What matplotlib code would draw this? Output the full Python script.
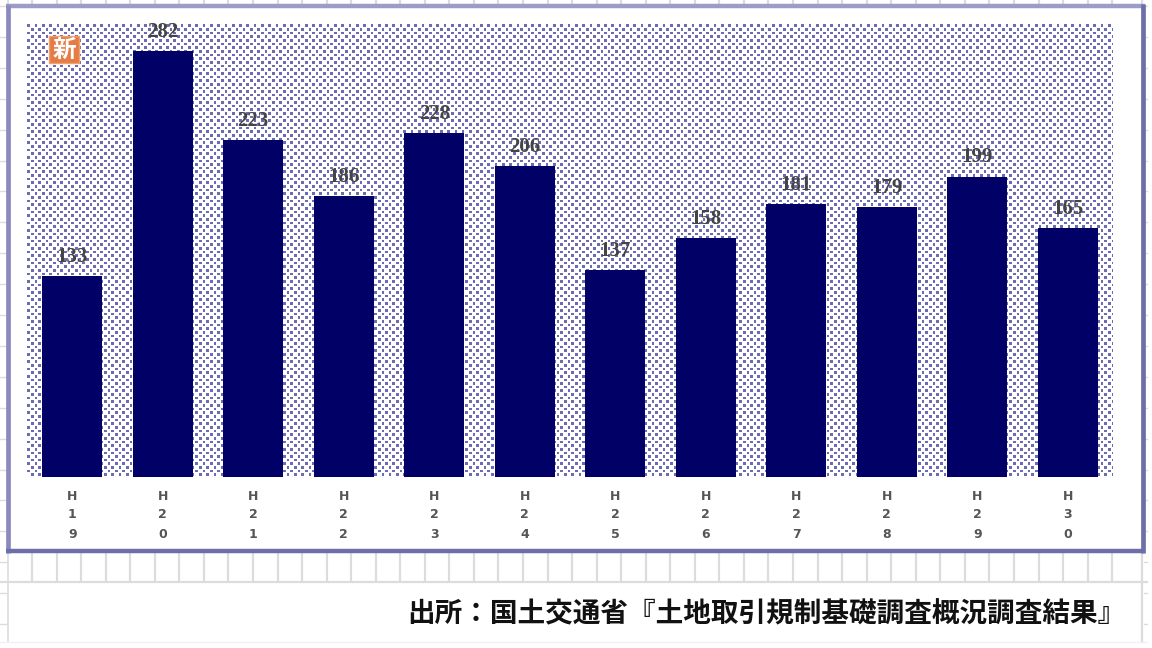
import matplotlib
matplotlib.use('Agg')
import matplotlib.pyplot as plt
import numpy as np
from matplotlib.patches import Rectangle

plt.rcParams['font.family'] = ['Noto Sans CJK JP', 'DejaVu Sans']

# data
nendo = ['H19', 'H20', 'H21', 'H22', 'H23', 'H24', 'H25', 'H26', 'H27', 'H28', 'H29', 'H30']
kensu = [133, 282, 223, 186, 228, 206, 137, 158, 181, 179, 199, 165]
shutten = '出所：国土交通省『土地取引規制基礎調査概況調査結果』'
shin = '新'

W, H = 1152, 648
fig = plt.figure(figsize=(W / 100, H / 100), dpi=100, facecolor='white')


def px_axes(x0, y0, x1, y1):
    # pixel box, measured from the top left
    return fig.add_axes([x0 / W, 1 - y1 / H, (x1 - x0) / W, (y1 - y0) / H])


# spreadsheet cells behind everything, frame on top of them
bg = fig.add_axes([0, 0, 1, 1], zorder=0)
bg.set_xlim(0, W)
bg.set_ylim(H, 0)
bg.axis('off')

gris = '#dcdcdc'
for x in np.arange(32, 1130, 24.55):
    bg.plot([x, x], [0, 582], color=gris, lw=1.6, solid_capstyle='butt')
# row lines only show in the narrow margins left and right of the frame
for y in np.arange(6, 640, 30.9):
    bg.plot([0, 7], [y, y], color=gris, lw=1.0)
    bg.plot([1144, 1147], [y, y], color=gris, lw=1.0)
bg.plot([0, 1147], [582, 582], color=gris, lw=1.6)
bg.plot([7.5, 7.5], [0, 642], color=gris, lw=1.2)
bg.plot([1142, 1142], [0, 642], color=gris, lw=1.6)
bg.plot([0, 1147], [641.5, 641.5], color='#f0f0f0', lw=1.0, zorder=4)

# frame
bg.add_patch(Rectangle((8, 6), 1134.5, 545, facecolor='white', edgecolor='none', zorder=5))
bg.plot([6, 1145], [6, 6], color='#9c9cc6', lw=3.2, zorder=6, solid_capstyle='butt')
bg.plot([8, 8], [5, 553], color='#8a8abc', lw=3.4, zorder=6, solid_capstyle='butt')
bg.plot([1143, 1143], [4, 553], color='#6e6ea8', lw=3.4, zorder=6, solid_capstyle='butt')
bg.plot([6, 1145], [551, 551], color='#6e6ea8', lw=3.2, zorder=6, solid_capstyle='butt')

# chart
ax = px_axes(27, 24, 1113, 477)
ax.set_zorder(2)

# dotted plot background
ny, nx = 453, 1086
yy, xx = np.mgrid[0:ny, 0:nx]
paso = 3.65
celda = (np.floor(xx / paso) + np.floor(yy / paso)) % 2 == 0
punto = celda & (xx / paso % 1 < 0.72) & (yy / paso % 1 < 0.72)
tex = np.ones((ny, nx, 3))
tex[punto] = matplotlib.colors.to_rgb('#6c6cb4')
ax.imshow(tex, extent=(-0.5, 11.5, 0, 300), aspect='auto', interpolation='nearest', zorder=0)

pos = np.arange(len(nendo))
barras = ax.bar(pos, kensu, width=0.665, color='#000066', zorder=2)
ax.bar_label(barras, padding=6.5, fontsize=15, color='#444444', fontweight='bold',
             family=['Liberation Serif'])

ax.set_xlim(-0.5, 11.5)
ax.set_ylim(0, 300)
ax.set_yticks([])
ax.set_xticks(pos)
ax.set_xticklabels(['\n'.join(n) for n in nendo], fontsize=9, fontweight='bold',
                   color='#555555', family=['DejaVu Sans'], linespacing=1.6)
ax.tick_params(axis='x', length=0, pad=9)
for s in ax.spines.values():
    s.set_visible(False)

# "new" badge
ov = fig.add_axes([0, 0, 1, 1], zorder=3)
ov.set_xlim(0, W)
ov.set_ylim(H, 0)
ov.axis('off')
ov.add_patch(Rectangle((49, 36), 30, 27, facecolor='#e57c45', edgecolor='#f0a070', lw=1))
ov.text(64, 49.5, shin, color='white', fontsize=17, fontweight='bold', ha='center', va='center')

fig.text(1126 / W, 1 - 614 / H, shutten, fontsize=19.9, fontweight='bold', color='#111111',
         ha='right', va='center', zorder=10)

fig.savefig('out.png', dpi=100)
